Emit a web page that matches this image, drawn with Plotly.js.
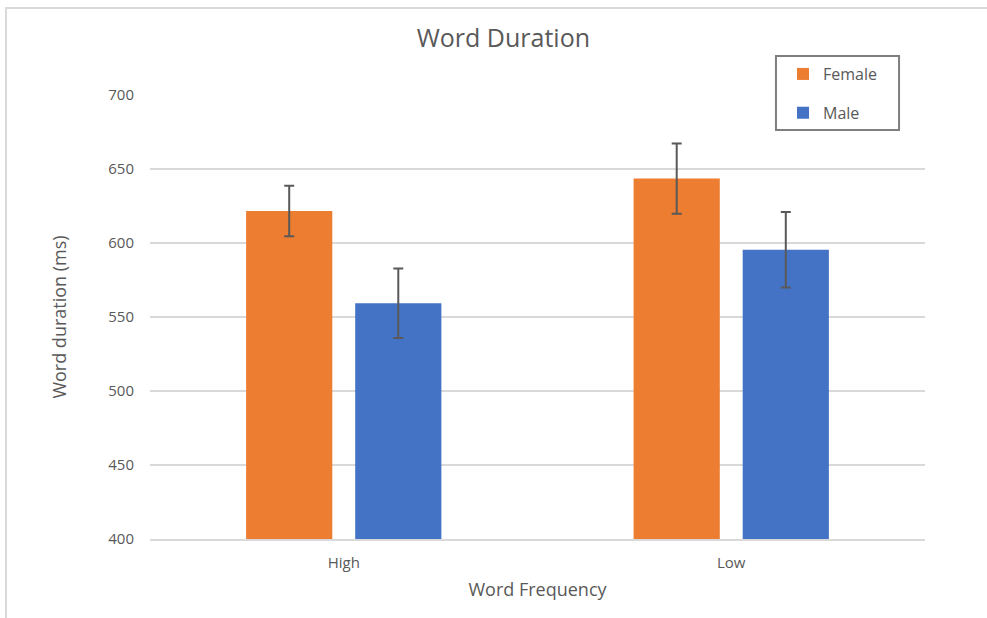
<!DOCTYPE html>
<html>
<head>
<meta charset="utf-8">
<script src="https://cdn.plot.ly/plotly-3.0.1.min.js"></script>
<style>
  html, body { margin: 0; padding: 0; background: #ffffff; }
  #wrap { position: relative; width: 987px; height: 618px; }
  #chart { width: 987px; height: 618px; }
  #frame { position: absolute; left: 5px; top: 7px; right: -2px; bottom: -2px;
           border-top: 2px solid #d9d9d9; border-left: 2px solid #d9d9d9; pointer-events: none; }
</style>
</head>
<body>
<div id="wrap">
  <div id="chart"></div>
  <div id="frame"></div>
</div>
<script>
const categories = ["High", "Low"];
const femaleValues = [621.6, 643.5];
const femaleErrors = [17, 23.7];
const maleValues = [559.3, 595.5];
const maleErrors = [23.5, 25.5];
const yTicks = [400, 450, 500, 550, 600, 650, 700];

const fontFamily = "'Open Sans', 'Noto Sans', sans-serif";
const textColor = "#595959";

const traces = [
  {
    type: "bar", name: "Female", x: categories, y: femaleValues,
    legendgroup: "f",
    marker: { color: "#ed7d31" },
    error_y: { type: "data", array: femaleErrors, visible: true, color: "#595959", thickness: 2, width: 5 }
  },
  {
    type: "bar", name: "Male", x: categories, y: maleValues,
    legendgroup: "m",
    marker: { color: "#4472c4" },
    error_y: { type: "data", array: maleErrors, visible: true, color: "#595959", thickness: 2, width: 5 }
  }
];

const layout = {
  width: 987, height: 618,
  margin: { l: 150, r: 62, t: 95, b: 79 },
  paper_bgcolor: "rgba(0,0,0,0)",
  plot_bgcolor: "rgba(0,0,0,0)",
  font: { family: fontFamily, color: textColor, size: 14 },
  title: { text: "Word Duration", x: 0.51, xanchor: "center", y: 0.938, yanchor: "middle",
           font: { size: 25, color: textColor, family: fontFamily } },
  barmode: "group",
  bargap: 0.437,
  bargroupgap: 0.21,
  showlegend: true,
  legend: {
    x: 0.8168, xanchor: "left", y: 1.0855, yanchor: "top",
    borderwidth: 0, bgcolor: "rgba(0,0,0,0)",
    font: { size: 16, color: textColor, family: fontFamily },
    traceorder: "grouped", tracegroupgap: 15
  },
  shapes: [
    {
      type: "rect", xref: "paper", yref: "paper", layer: "above",
      x0: 0.8077, x1: 0.9665, y0: 0.921, y1: 1.088,
      line: { color: "#7f7f7f", width: 2 }, fillcolor: "#ffffff"
    }
  ],
  xaxis: {
    type: "category",
    showline: true, linecolor: "#d9d9d9", linewidth: 2,
    ticks: "", tickfont: { size: 15, color: textColor },
    ticklabelstandoff: 9,
    title: { text: "Word Frequency", font: { size: 18, color: textColor }, standoff: 12 },
    showgrid: false, zeroline: false
  },
  yaxis: {
    range: [400, 700],
    tickvals: yTicks,
    ticktext: yTicks.map(String),
    showgrid: true, gridcolor: "#d9d9d9", gridwidth: 1.5,
    zeroline: false, showline: false, ticks: "",
    ticklabelstandoff: 15,
    tickfont: { size: 15, color: textColor },
    title: { text: "Word duration (ms)", font: { size: 18, color: textColor }, standoff: 36 }
  }
};

Plotly.newPlot("chart", traces, layout, { displayModeBar: false, staticPlot: true });
</script>
</body>
</html>
